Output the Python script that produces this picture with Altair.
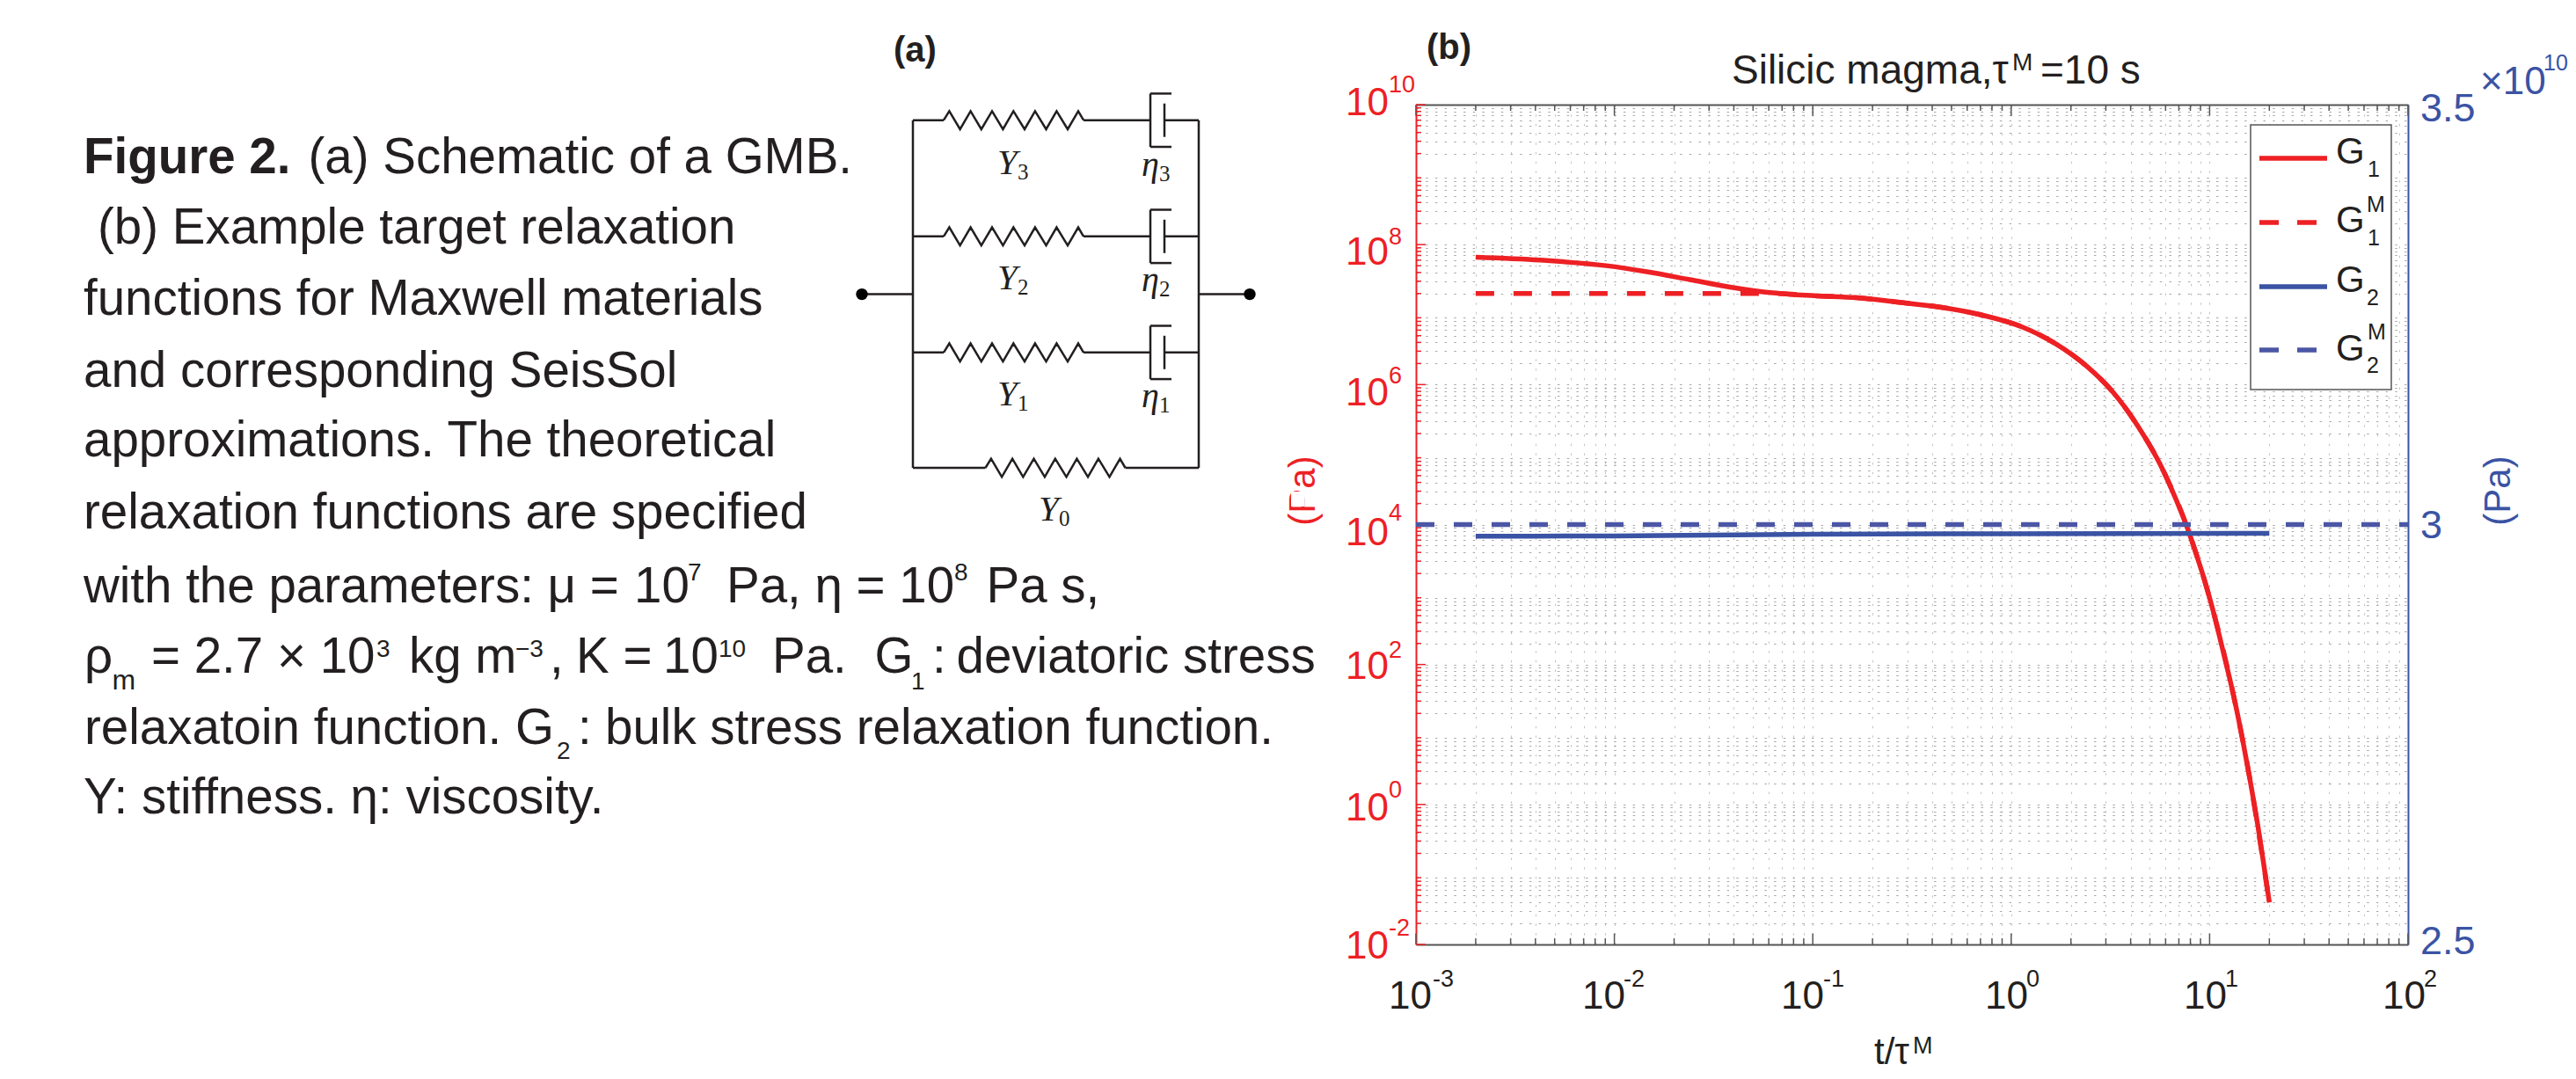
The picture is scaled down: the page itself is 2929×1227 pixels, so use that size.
import altair as alt
import pandas as pd

W, H = 1128, 955
X0, Y0 = 1610, 119
RED, BLUE, BLUE2, INK, EDGE = "#ed2024", "#3a53a4", "#4b56a5", "#231f20", "#555555"

# ---------- series ----------
G1_T = [2e-3, 4.24e-3, 9.1e-3, 0.0148, 0.024, 0.0389, 0.063, 0.102, 0.166, 0.266, 0.43, 0.697, 1.12, 1.66, 2.43,
        3.24, 4.34, 5.79, 6.7, 7.73, 8.51, 9.3, 10.3, 11.9, 13.1, 14.5, 15.8, 17.4, 20]
G1_V = [6.6e7, 6.0e7, 5.0e7, 4.07e7, 3.16e7, 2.45e7, 2.04e7, 1.86e7, 1.74e7, 1.51e7, 1.29e7, 1.0e7, 6.76e6, 3.89e6,
        1.78e6, 7.94e5, 2.57e5, 6.2e4, 2.45e4, 8.91e3, 3.98e3, 1.82e3, 660, 126, 40, 10, 2.7, 0.55, 0.0398]
G1M_T = [2e-3, 0.01, 0.03, 0.063, 0.102, 0.166, 0.266, 0.43, 0.697, 1.12, 1.66, 2.43, 3.24, 4.34, 5.79, 7.73, 10.3,
         13.1, 15.8, 20]
G1M_V = [2e7, 2e7, 2e7, 2e7, 1.86e7, 1.74e7, 1.51e7, 1.29e7, 1.0e7, 6.76e6, 3.89e6, 1.78e6, 7.94e5, 2.57e5, 6.2e4,
         8.91e3, 660, 40, 2.7, 0.0398]
G2_T = [2e-3, 0.01, 0.1, 1, 20]
G2_V = [2.986e10, 2.9865e10, 2.9885e10, 2.989e10, 2.9895e10]
G2M_T = [1e-3, 1e2]
G2M_V = [3e10, 3e10]

# ---------- ticks ----------
X_MAJOR = [1e-3, 1e-2, 1e-1, 1, 10, 100]
Y_MAJOR = [1e-2, 1, 1e2, 1e4, 1e6, 1e8, 1e10]
MINOR_STEPS = [2, 3, 4, 5, 6, 7, 8, 9]
X_MINOR = [d * m for d in X_MAJOR[:-1] for m in MINOR_STEPS]
Y_MINOR = [10.0 ** e * m for e in range(-2, 10) for m in MINOR_STEPS]
Y_R_TICKS = [2.5e10, 3e10, 3.5e10]

# ---------- text: (x, baseline y, text, size) in picture pixels ----------
BODY = [
    (350.5, 197, "(a) Schematic of a GMB.", 56.5), (111, 277, "(b) Example target relaxation", 56.5),
    (95, 358, "functions for Maxwell materials", 56.5), (95, 440, "and corresponding SeisSol", 56.5),
    (95, 519, "approximations. The theoretical", 56.5), (95, 601, "relaxation functions are specified", 56.5),
    (95, 685, "with the parameters: μ =", 56.5), (721, 685, "10", 56.5), (782, 660, "7", 28),
    (826, 685, "Pa, η = 10", 56.5), (1085, 660, "8", 28), (1121.5, 685, "Pa s,", 56.5),
    (96, 765, "ρ", 56.5), (127.5, 784, "m", 32), (172, 765, "= 2.7 × 10", 56.5), (428, 747, "3", 28),
    (465, 765, "kg m", 56.5), (586, 747, "−3", 28), (625, 765, ",", 56.5), (655, 765, "K =", 56.5),
    (754, 765, "10", 56.5), (817, 747, "10", 28), (878, 765, "Pa.", 56.5), (994.5, 765, "G", 56.5),
    (1036, 784, "1", 28), (1060, 765, ":", 56.5), (1087.5, 765, "deviatoric stress", 56.5),
    (96, 846, "relaxatoin function. G", 56.5), (633, 863, "2", 28), (657, 846, ":", 56.5),
    (688, 846, "bulk stress relaxation function.", 56.5),
    (95, 925, "Y: stiffness. η: viscosity.", 56.5),
    (1969, 95, "Silicic magma,τ", 46), (2288, 80, "M", 28), (2320, 95, "=10 s", 46),
    (2131, 1210, "t/τ", 42), (2175, 1198, "M", 27),
]
BOLD = [(95, 197, "Figure 2.", 56.5), (1016, 70, "(a)", 40), (1622, 67, "(b)", 40)]

X_LABEL_X = [1579, 1799, 2025, 2257, 2483, 2709]
X_EXP_X = [1629, 1846, 2073, 2304, 2530, 2756]
X_EXP = ["-3", "-2", "-1", "0", "1", "2"]
Y_LABEL_BASE = [131, 301, 461, 620, 772, 933, 1090]
Y_EXP_BASE = [105, 278, 436, 592, 748, 907, 1064]
Y_EXP = ["10", "8", "6", "4", "2", "0", "-2"]
R_LABELS = [(2752, 138, "3.5", 45), (2752, 612, "3", 45), (2752, 1085, "2.5", 45), (2820, 107, "×10", 44),
            (2892, 80, "10", 25)]
LEGEND_BOX = [(2559, 142, 2719, 443)]
LEGEND_LINES = [(180, RED, []), (253, RED, [22, 21]), (326, BLUE, []), (398, BLUE2, [22, 21])]
LEGEND_TEXT = [(2656, 186, "G", 42), (2692, 201, "1", 25), (2656, 264, "G", 42), (2692, 279, "1", 25),
               (2691, 241, "M", 25), (2656, 332, "G", 42), (2691, 347, "2", 25), (2656, 410, "G", 42),
               (2691, 424, "2", 25), (2692, 386, "M", 25)]
AXIS_TITLES = [(1495, 558, "(Pa)", RED), (2854, 558, "(Pa)", BLUE)]
P_BOWL_COVER = [(1468, 559, 1483, 576)]

# ---------- schematic (a) ----------
ROWS = [136.7, 268.8, 400.8]
ZIG_X = [1073, 1079.4, 1091.6, 1103.6, 1115.8, 1128, 1140.4, 1152.3, 1165, 1176.9, 1189.5, 1201.4, 1214, 1226, 1232]
ZIG_DY = [0, -10.3, 10.3, -10.3, 10.3, -10.3, 10.3, -10.3, 10.3, -10.3, 10.3, -10.3, 10.3, -10.3, 0]
BOTTOM_Y = 532
BOTTOM_SHIFT = 47.5
WIRES = [(1038, 136.7, 1038, 532), (1363, 136.7, 1363, 532), (980, 334.6, 1038, 334.6), (1363, 334.6, 1421, 334.6),
         (1038, 532, 1120.5, 532), (1279.5, 532, 1363, 532)]
for r in ROWS:
    WIRES += [(1038, r, 1073, r), (1232, r, 1308, r), (1324, r, 1363, r),
              (1308, r - 30.3, 1308, r + 30.3), (1308, r - 30.3, 1332, r - 30.3), (1308, r + 30.3, 1332, r + 30.3),
              (1324, r - 19, 1324, r + 19)]
NODES = [(980, 334.6), (1421, 334.6)]
SCHEM_Y = [(1134, 198, "Y"), (1134, 329, "Y"), (1134, 461, "Y"), (1181, 592, "Y")]
SCHEM_SUB = [(1157, 204, "3"), (1157, 335, "2"), (1157, 467, "1"), (1204, 598, "0"),
             (1318, 206, "3"), (1318, 337, "2"), (1318, 469, "1")]
SCHEM_ETA = [(1298, 200, "η"), (1298, 331, "η"), (1298, 463, "η")]

# ---------- scales ----------
xlog = alt.Scale(type="log", domain=[1e-3, 1e2], nice=False)
ylog = alt.Scale(type="log", domain=[1e-2, 1e10], nice=False)
ylin = alt.Scale(type="linear", domain=[2.5e10, 3.5e10], nice=False, zero=False)
xpx = alt.Scale(domain=[0, 2929], range=[-X0, 2929 - X0])
ypx = alt.Scale(domain=[0, 1227], range=[-Y0, 1227 - Y0])
FONT = "Liberation Sans"


def PX(f="x"):
    return alt.X(f"{f}:Q", scale=xpx, axis=None)


def PY(f="y"):
    return alt.Y(f"{f}:Q", scale=ypx, axis=None)


def df(**kw):
    return alt.Data(values=pd.DataFrame(kw).to_dict("records"))


def text_layer(rows, color=INK, **mark):
    d = pd.DataFrame(rows, columns=["x", "y", "t", "s"])
    opts = dict(font=FONT, align="left", baseline="alphabetic", color=color)
    opts.update(mark)
    return alt.Chart(alt.Data(values=d.to_dict("records"))).mark_text(**opts).encode(
        x=PX(), y=PY(), text="t:N", size=alt.Size("s:Q", scale=None))


def series(t, v, yscale, color, dash=None, w=5.5):
    kw = dict(color=color, strokeWidth=w, clip=True, interpolate="monotone")
    if dash:
        kw["strokeDash"] = dash
    return alt.Chart(df(t=t, v=v)).mark_line(**kw).encode(
        x=alt.X("t:Q", scale=xlog, axis=None), y=alt.Y("v:Q", scale=yscale, axis=None))


def xticks(values, length, top):
    base = alt.Chart(df(t=values)).mark_rule(color=EDGE, strokeWidth=1.5)
    a, b = (0, length) if top else (H, H - length)
    return base.encode(x=alt.X("t:Q", scale=xlog, axis=None), y=alt.value(a), y2=alt.value(b))


def yticks(values, length):
    return alt.Chart(df(v=values)).mark_rule(color=RED, strokeWidth=1.5).encode(
        y=alt.Y("v:Q", scale=ylog, axis=None), x=alt.value(0), x2=alt.value(length))


layers = []

# left axis + bottom axis with the dotted log grid
layers.append(alt.Chart(df(t=[1e-3], v=[1e-2])).mark_point(opacity=0).encode(
    x=alt.X("t:Q", scale=xlog, axis=alt.Axis(values=X_MAJOR + X_MINOR, labels=False, ticks=False, title=None,
                                              grid=True, gridColor="#c4c4c4", gridDash=[2.5, 8.2], gridWidth=1,
                                              domainColor=EDGE, domainWidth=2)),
    y=alt.Y("v:Q", scale=ylog, axis=alt.Axis(values=Y_MAJOR + Y_MINOR, labels=False, ticks=False, title=None,
                                              grid=True, gridColor="#a8a8a8", gridDash=[2.5, 8.2], gridWidth=1,
                                              domainColor=RED, domainWidth=2))))
# right axis + top axis
layers.append(alt.Chart(df(t=[1e-3], v=[2.5e10])).mark_point(opacity=0).encode(
    x=alt.X("t:Q", scale=xlog, axis=alt.Axis(orient="top", values=X_MAJOR, labels=False, ticks=False, title=None,
                                              grid=False, domainColor=EDGE, domainWidth=2)),
    y=alt.Y("v:Q", scale=ylin, axis=alt.Axis(orient="right", values=Y_R_TICKS, labels=False, ticks=False, title=None,
                                              grid=False, domainColor=BLUE, domainWidth=2))))

for top in (True, False):
    layers += [xticks(X_MAJOR, 12.5, top), xticks(X_MINOR, 7, top)]
layers += [yticks(Y_MAJOR, 11), yticks(Y_MINOR, 6)]

layers += [
    series(G1M_T, G1M_V, ylog, RED, dash=[21, 22]),
    series(G1_T, G1_V, ylog, RED),
    series(G2_T, G2_V, ylin, BLUE),
    series(G2M_T, G2M_V, ylin, BLUE2, dash=[21, 22]),
]

# legend
lb = pd.DataFrame(LEGEND_BOX, columns=["x", "y", "x2", "y2"])
layers.append(alt.Chart(alt.Data(values=lb.to_dict("records"))).mark_rect(
    fill="white", stroke=EDGE, strokeWidth=1.5).encode(x=PX(), y=PY(), x2="x2:Q", y2="y2:Q"))
for y, c, dash in LEGEND_LINES:
    kw = dict(color=c, strokeWidth=5.5)
    if dash:
        kw["strokeDash"] = dash
    layers.append(alt.Chart(df(x=[2569], x2=[2646], y=[y])).mark_rule(**kw).encode(x=PX(), x2="x2:Q", y=PY()))
layers.append(text_layer(LEGEND_TEXT))

# chart texts
layers.append(text_layer(BODY))
layers.append(text_layer(BOLD, fontWeight="bold"))
layers.append(text_layer([(x, 1147, "10", 44) for x in X_LABEL_X]))
layers.append(text_layer([(x, 1122, e, 27) for x, e in zip(X_EXP_X, X_EXP)]))
layers.append(text_layer([(1530, y, "10", 44) for y in Y_LABEL_BASE], color=RED))
layers.append(text_layer([(1579, y, e, 27) for y, e in zip(Y_EXP_BASE, Y_EXP)], color=RED))
layers.append(text_layer(R_LABELS, color=BLUE))
for x, y, t, c in AXIS_TITLES:
    layers.append(text_layer([(x, y, t, 42)], color=c, angle=270, align="center"))
cover = pd.DataFrame(P_BOWL_COVER, columns=["x", "y", "x2", "y2"])
layers.append(alt.Chart(alt.Data(values=cover.to_dict("records"))).mark_rect(fill="white", stroke=None).encode(
    x=PX(), y=PY(), x2="x2:Q", y2="y2:Q"))

# schematic
wd = pd.DataFrame(WIRES, columns=["x", "y", "x2", "y2"])
layers.append(alt.Chart(alt.Data(values=wd.to_dict("records"))).mark_rule(color=INK, strokeWidth=2.5).encode(
    x=PX(), y=PY(), x2="x2:Q", y2="y2:Q"))
zig = []
for i, r in enumerate(ROWS):
    zig += [{"row": i, "x": a, "y": r + b} for a, b in zip(ZIG_X, ZIG_DY)]
zig += [{"row": 3, "x": a + BOTTOM_SHIFT, "y": BOTTOM_Y + b} for a, b in zip(ZIG_X, ZIG_DY)]
layers.append(alt.Chart(alt.Data(values=zig)).mark_line(color=INK, strokeWidth=2.5).encode(
    x=PX(), y=PY(), detail="row:N"))
nd = pd.DataFrame(NODES, columns=["x", "y"])
layers.append(alt.Chart(alt.Data(values=nd.to_dict("records"))).mark_point(
    filled=True, color="#000000", size=180, opacity=1).encode(x=PX(), y=PY()))
layers.append(text_layer([r + (41,) for r in SCHEM_Y], font="Liberation Serif", fontStyle="italic"))
layers.append(text_layer([r + (40,) for r in SCHEM_ETA], font="Liberation Serif", fontStyle="italic"))
layers.append(text_layer([r + (25,) for r in SCHEM_SUB], font="Liberation Serif"))

chart = alt.layer(*layers).resolve_scale(x="independent", y="independent").properties(
    width=W, height=H,
    padding={"left": X0 - 8, "top": Y0 - 8, "right": 183, "bottom": 145},
    autosize=alt.AutoSizeParams(type="none"),
).configure_view(stroke=None)

chart.save("out.html", embed_options={"renderer": "svg", "actions": False})
